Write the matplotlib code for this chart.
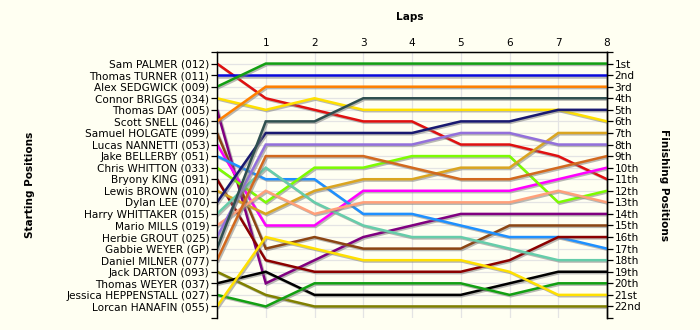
import matplotlib
matplotlib.use("Agg")
import matplotlib.pyplot as plt
import matplotlib.patheffects as pe

drivers = ["Sam PALMER (012)", "Thomas TURNER (011)", "Alex SEDGWICK (009)",
           "Connor BRIGGS (034)", "Thomas DAY (005)", "Scott SNELL (046)",
           "Samuel HOLGATE (099)", "Lucas NANNETTI (053)", "Jake BELLERBY (051)",
           "Chris WHITTON (033)", "Bryony KING (091)", "Lewis BROWN (010)",
           "Dylan LEE (070)", "Harry WHITTAKER (015)", "Mario MILLS (019)",
           "Herbie GROUT (025)", "Gabbie WEYER (GP)", "Daniel MILNER (077)",
           "Jack DARTON (093)", "Thomas WEYER (037)", "Jessica HEPPENSTALL (027)",
           "Lorcan HANAFIN (055)"]

colors = ["#E01010", "#0A0ADC", "#12A012", "#FFE000", "#800080", "#FF8000",
          "#8B4513", "#FF00FF", "#1E90FF", "#7CFC00", "#8B0000", "#DAA520",
          "#191970", "#66CDAA", "#FFA07A", "#9370DB", "#2F4F4F", "#D2691E",
          "#808000", "#000000", "#12A012", "#FFE000"]

laps = [0, 1, 2, 3, 4, 5, 6, 7, 8]

# position of each driver (in starting order) at each lap
lap_0 = [1, 2, 3, 4, 5, 6, 7, 8, 9, 10, 11, 12, 13, 14, 15, 16, 17, 18, 19, 20, 21, 22]
lap_1 = [4, 2, 1, 5, 20, 3, 17, 15, 11, 13, 18, 14, 7, 10, 12, 8, 6, 9, 21, 19, 22, 16]
lap_2 = [5, 2, 1, 4, 18, 3, 16, 15, 11, 10, 19, 12, 7, 13, 14, 8, 6, 9, 22, 21, 20, 17]
lap_3 = [6, 2, 1, 5, 16, 3, 17, 12, 14, 10, 19, 11, 7, 15, 13, 8, 4, 9, 22, 21, 20, 18]
lap_4 = [6, 2, 1, 5, 15, 3, 17, 12, 14, 9, 19, 11, 7, 16, 13, 8, 4, 10, 22, 21, 20, 18]
lap_5 = [8, 2, 1, 5, 14, 3, 17, 12, 15, 9, 19, 10, 6, 16, 13, 7, 4, 11, 22, 21, 20, 18]
lap_6 = [8, 2, 1, 5, 14, 3, 15, 12, 16, 9, 18, 10, 6, 17, 13, 7, 4, 11, 22, 20, 21, 19]
lap_7 = [9, 2, 1, 5, 14, 3, 15, 11, 16, 13, 16, 7, 5, 18, 12, 8, 4, 10, 22, 19, 20, 21]
lap_8 = [11, 2, 1, 6, 14, 3, 15, 10, 17, 12, 16, 7, 5, 18, 13, 8, 4, 9, 22, 19, 20, 21]

finish_labels = ["1st", "2nd", "3rd", "4th", "5th", "6th", "7th", "8th", "9th",
                 "10th", "11th", "12th", "13th", "14th", "15th", "16th", "17th",
                 "18th", "19th", "20th", "21st", "22nd"]

all_laps = [lap_0, lap_1, lap_2, lap_3, lap_4, lap_5, lap_6, lap_7, lap_8]

bg = "#FFFFF2"
fig = plt.figure(figsize=(7, 3.3), dpi=100, facecolor=bg)
ax = fig.add_axes([217 / 700, 1 - 318 / 330, 390 / 700, 266 / 330])
ax.set_facecolor(bg)

ax.set_xlim(0, 8)
ax.set_ylim(23, 0)

for x in laps[1:-1]:
    ax.axvline(x, color="#E4E4E4", lw=0.9, zorder=0)
for y in range(1, 23):
    ax.axhline(y, color="#E4E4E4", lw=0.9, zorder=0)

shadow = [pe.SimpleLineShadow(offset=(1.0, -1.0), shadow_color="#808080", alpha=0.55),
          pe.Normal()]
for i, (name, c) in enumerate(zip(drivers, colors)):
    ys = [lap[i] for lap in all_laps]
    ax.plot(laps, ys, color=c, lw=1.8, solid_joinstyle="miter",
            path_effects=shadow, zorder=3)

font = "DejaVu Sans"
fs = 7.6
ax.set_yticks(list(range(0, 24)))
ax.set_yticklabels([""] + drivers + [""], fontsize=fs, family=font)
ax.tick_params(axis="y", direction="out", length=4, width=0.9, pad=1.5)

ax.xaxis.tick_top()
ax.set_xticks(laps)
ax.set_xticklabels([""] + [str(l) for l in laps[1:]], fontsize=fs, family=font)
ax.tick_params(axis="x", direction="out", length=0, pad=3)

for s in ["left", "top", "right"]:
    ax.spines[s].set_linewidth(1.0)
ax.spines["bottom"].set_visible(False)

ax2 = ax.twinx()
ax2.set_ylim(23, 0)
ax2.set_yticks(list(range(0, 24)))
ax2.set_yticklabels([""] + finish_labels + [""], fontsize=fs, family=font)
ax2.tick_params(axis="y", direction="out", length=4, width=0.9, pad=1.5)
ax2.spines["bottom"].set_visible(False)
ax2.spines["right"].set_linewidth(1.0)

fig.text(410 / 700, 1 - 17 / 330, "Laps", ha="center", va="center",
         fontsize=7.6, fontweight="bold", family=font)
fig.text(30 / 700, 1 - 185 / 330, "Starting Positions", ha="center", va="center",
         rotation=90, fontsize=7.6, fontweight="bold", family=font)
fig.text(664 / 700, 1 - 185 / 330, "Finishing Positions", ha="center", va="center",
         rotation=-90, fontsize=7.6, fontweight="bold", family=font)

fig.savefig("out.png", dpi=100, facecolor=bg)
